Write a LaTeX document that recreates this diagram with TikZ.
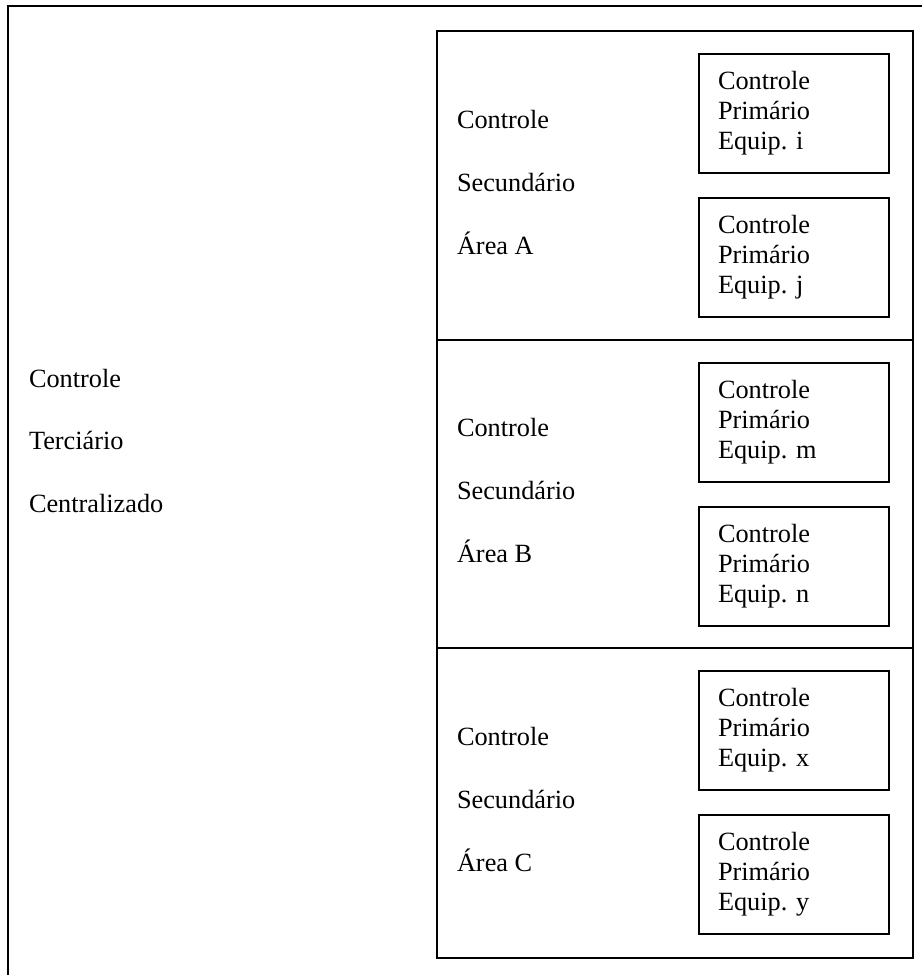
\documentclass[tikz,border=0pt]{standalone}
\usepackage{fontspec}
\setmainfont{Liberation Serif}
\newcommand\linesof[4]{\vtop{\baselineskip=#1pt\hbox{#2}\hbox{#3}\hbox{#4}}}
\tikzset{
  txt/.style={anchor=base west, inner sep=0pt, outer sep=0pt, font=\fontsize{26.3}{30}\selectfont},
  secbox/.style={draw, line width=2pt, anchor=north west, inner sep=0pt, minimum width=476pt},
  primbox/.style={draw, line width=2pt, anchor=north west, inner sep=0pt, minimum width=190pt, minimum height=119pt},
  outerline/.style={line width=2.2pt}
}
\begin{document}
\begin{tikzpicture}[x=1pt,y=-1pt]
\useasboundingbox (0,0) rectangle (922,975);
% outer frame (cropped at right and bottom)
\coordinate (otr) at (922,6);
\coordinate (otl) at (8,6);
\coordinate (obl) at (8,975);
\draw[outerline] (otr) -- (otl) -- (obl);
\node[txt] (tert) at (29,387) {\linesof{62.5}{Controle}{Terciário}{Centralizado}};
% secondary areas
\node[secbox, minimum height=309pt] (secA) at (436,30) {};
\node[secbox, minimum height=308pt] (secB) at (436,339) {};
\node[secbox, minimum height=310pt] (secC) at (436,647) {};
\node[txt] (tA) at (457,128) {\linesof{63}{Controle}{Secundário}{Área A}};
\node[txt] (tB) at (457,436) {\linesof{63}{Controle}{Secundário}{Área B}};
\node[txt] (tC) at (457,745) {\linesof{63}{Controle}{Secundário}{Área C}};
% primary boxes
\node[primbox] (pi) at (698,53) {};
\node[primbox] (pj) at (698,197) {};
\node[primbox] (pm) at (698,362) {};
\node[primbox] (pn) at (698,506) {};
\node[primbox] (px) at (698,670) {};
\node[primbox] (py) at (698,814) {};
\node[txt] (ti) at (718,89) {\linesof{30}{Controle}{Primário}{Equip. i}};
\node[txt] (tj) at (718,233) {\linesof{30}{Controle}{Primário}{Equip. j}};
\node[txt] (tm) at (718,398) {\linesof{30}{Controle}{Primário}{Equip. m}};
\node[txt] (tn) at (718,542) {\linesof{30}{Controle}{Primário}{Equip. n}};
\node[txt] (tx) at (718,706) {\linesof{30}{Controle}{Primário}{Equip. x}};
\node[txt] (ty) at (718,850) {\linesof{30}{Controle}{Primário}{Equip. y}};
\end{tikzpicture}
\end{document}
